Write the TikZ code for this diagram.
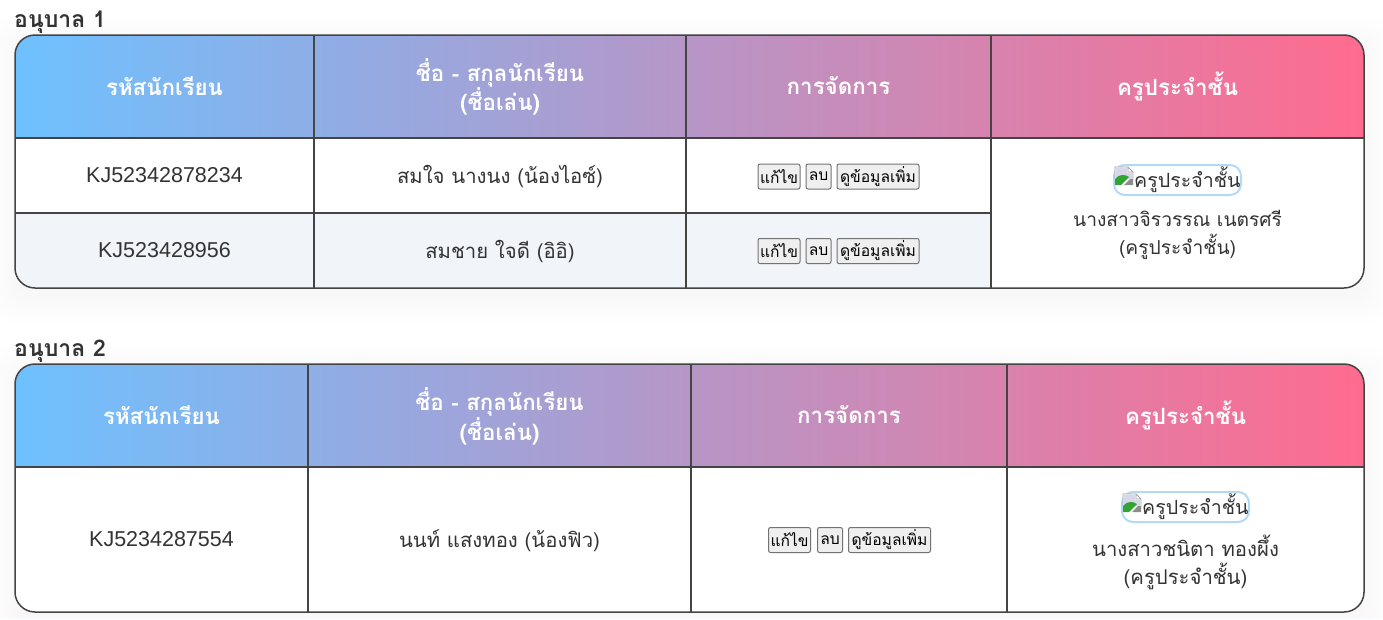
\documentclass[tikz,border=0pt]{standalone}
\usepackage{fontspec}
\setmainfont{Liberation Sans}
\newfontfamily\thaifont[Script=Thai]{Loma}
\usepackage{xcolor}
\usetikzlibrary{positioning}
\definecolor{gridline}{HTML}{444444}
\definecolor{textdark}{HTML}{333333}
\definecolor{headleft}{HTML}{6EC1FF}
\definecolor{headright}{HTML}{FF6B8F}
\definecolor{rowalt}{HTML}{F1F4F9}
\definecolor{btnfill}{HTML}{EFEFEF}
\definecolor{imgring}{HTML}{B3D9F7}
\definecolor{shadowblue}{HTML}{6EA8F0}
\tikzset{
  titletext/.style={anchor=west,inner sep=0pt,text=textdark,font=\thaifont\bfseries\fontsize{23}{26}\selectfont},
  headcell/.style={align=center,text=white,inner sep=0pt,font=\thaifont\bfseries\fontsize{22.3}{28}\selectfont},
  bodycell/.style={align=center,text=textdark,inner sep=0pt,font=\thaifont\fontsize{20.3}{28}\selectfont},
  idcell/.style={text=textdark,inner sep=0pt,font=\fontsize{21.5}{28}\selectfont},
  btn/.style={draw=black!55,fill=btnfill,rounded corners=2pt,line width=1pt,inner sep=0pt,minimum height=25pt,text=black,font=\thaifont\fontsize{15.6}{18}\selectfont},
  gridl/.style={draw=gridline,line width=1.5pt},
  imgbox/.style={draw=imgring,fill=white,line width=2pt,rounded corners=11pt,minimum width=127pt,minimum height=30pt,inner sep=0pt},
  imgalt/.style={inner sep=0pt,text=textdark,font=\thaifont\fontsize{19.6}{24}\selectfont},
}
% broken image icon, #1 is the top left corner
\newcommand{\brokenimg}[1]{
\begin{scope}[shift={(#1)}]
\fill[white] (0,0) -- (13,0) -- (18,5) -- (18,18) -- (0,18) -- cycle;
\fill[blue!25!gray!25] (1,1) -- (12,1) -- (12,6) -- (17,6) -- (17,12) -- (1,12) -- cycle;
\fill[green!55!black!80] (0,18) -- (0,12) .. controls (4,7) and (10,7) .. (14,10) -- (6,18) -- cycle;
\fill[black!45] (9,18) -- (15,12) -- (18,12) -- (18,18) -- cycle;
\draw[black!35,line width=.8pt] (0,12) -- (0,0) -- (13,0) -- (18,5) -- (18,12) (13,0) -- (13,5) -- (18,5);
\end{scope}
}
\begin{document}
\begin{tikzpicture}[x=1pt,y=-1pt]
\useasboundingbox (0,0) rectangle (1383,619);
\fill[white] (0,0) rectangle (1383,619);

% soft shadow round the tables
\foreach \s in {26,22,...,2}{
\fill[shadowblue,opacity=.005,rounded corners=20pt] (15-\s,35+8-\s) rectangle (1364+\s,288+8+\s);
\fill[shadowblue,opacity=.005,rounded corners=20pt] (15-\s,364+8-\s) rectangle (1364+\s,612+8+\s);
}

%%%%% first table
\node[titletext] (titleA) at (14,22) {อนุบาล 1};

\coordinate (aNW) at (15,35);
\coordinate (aSE) at (1364,288);
\fill[white,rounded corners=20pt] (aNW) rectangle (aSE);
\fill[rowalt] (991,213) -- (15,213) [rounded corners=20pt] -- (15,288) [sharp corners] -- (991,288) -- cycle;
\shade[left color=headleft,right color=headright]
  (15,138) [rounded corners=20pt] -- (15,35) -- (1364,35) [sharp corners] -- (1364,138) -- cycle;
\foreach \x in {314,686,991}{
\draw[gridl] (\x,35) -- (\x,288);
}
\draw[gridl] (15,138) -- (1364,138);
\draw[gridl] (15,213) -- (991,213);
\draw[gridl,rounded corners=20pt] (aNW) rectangle (aSE);

\node[headcell] (headA1) at (164.5,86) {รหัสนักเรียน};
\node[headcell] (headA2) at (500,87) {ชื่อ - สกุลนักเรียน\\(ชื่อเล่น)};
\node[headcell] (headA3) at (838.5,86) {การจัดการ};
\node[headcell] (headA4) at (1177.5,86) {ครูประจำชั้น};

\node[idcell] (idA1) at (164.5,175.5) {KJ52342878234};
\node[idcell] (idA2) at (164.5,250.5) {KJ523428956};
\node[bodycell] (nameA1) at (500,176.5) {สมใจ นางนง (น้องไอซ์)};
\node[bodycell] (nameA2) at (500,251.5) {สมชาย ใจดี (อิอิ)};

\node[btn,minimum width=42pt] (editA1) at (779,176.5) {แก้ไข};
\node[btn,minimum width=25pt] (delA1) at (818.5,176.5) {ลบ};
\node[btn,minimum width=82pt] (moreA1) at (878,176.5) {ดูข้อมูลเพิ่ม};
\node[btn,minimum width=42pt] (editA2) at (779,251) {แก้ไข};
\node[btn,minimum width=25pt] (delA2) at (818.5,251) {ลบ};
\node[btn,minimum width=82pt] (moreA2) at (878,251) {ดูข้อมูลเพิ่ม};

\node[imgbox] (imgA) at (1177.5,180) {};
\brokenimg{1115,167}
\node[imgalt,anchor=west] (altA) at (1134,180) {ครูประจำชั้น};
\node[bodycell,font=\thaifont\fontsize{19.2}{28}\selectfont] (teachA) at (1177.5,235) {นางสาวจิรวรรณ เนตรศรี\\(ครูประจำชั้น)};

%%%%% second table
\node[titletext] (titleB) at (14,351) {อนุบาล 2};

\coordinate (bNW) at (15,364);
\coordinate (bSE) at (1364,612);
\fill[white,rounded corners=20pt] (bNW) rectangle (bSE);
\shade[left color=headleft,right color=headright]
  (15,467) [rounded corners=20pt] -- (15,364) -- (1364,364) [sharp corners] -- (1364,467) -- cycle;
\foreach \x in {308,691,1007}{
\draw[gridl] (\x,364) -- (\x,612);
}
\draw[gridl] (15,467) -- (1364,467);
\draw[gridl,rounded corners=20pt] (bNW) rectangle (bSE);

\node[headcell] (headB1) at (161.5,415) {รหัสนักเรียน};
\node[headcell] (headB2) at (499.5,416) {ชื่อ - สกุลนักเรียน\\(ชื่อเล่น)};
\node[headcell] (headB3) at (849,415) {การจัดการ};
\node[headcell] (headB4) at (1185.5,415) {ครูประจำชั้น};

\node[idcell] (idB1) at (161.5,539.5) {KJ5234287554};
\node[bodycell] (nameB1) at (499.5,540.5) {นนท์ แสงทอง (น้องฟิว)};

\node[btn,minimum width=42pt] (editB1) at (789.5,540) {แก้ไข};
\node[btn,minimum width=25pt] (delB1) at (830,540) {ลบ};
\node[btn,minimum width=82pt] (moreB1) at (889.5,540) {ดูข้อมูลเพิ่ม};

\node[imgbox] (imgB) at (1185.5,507) {};
\brokenimg{1123,494}
\node[imgalt,anchor=west] (altB) at (1142,507) {ครูประจำชั้น};
\node[bodycell] (teachB) at (1185.5,562) {นางสาวชนิตา ทองผึ้ง\\(ครูประจำชั้น)};
\end{tikzpicture}
\end{document}
